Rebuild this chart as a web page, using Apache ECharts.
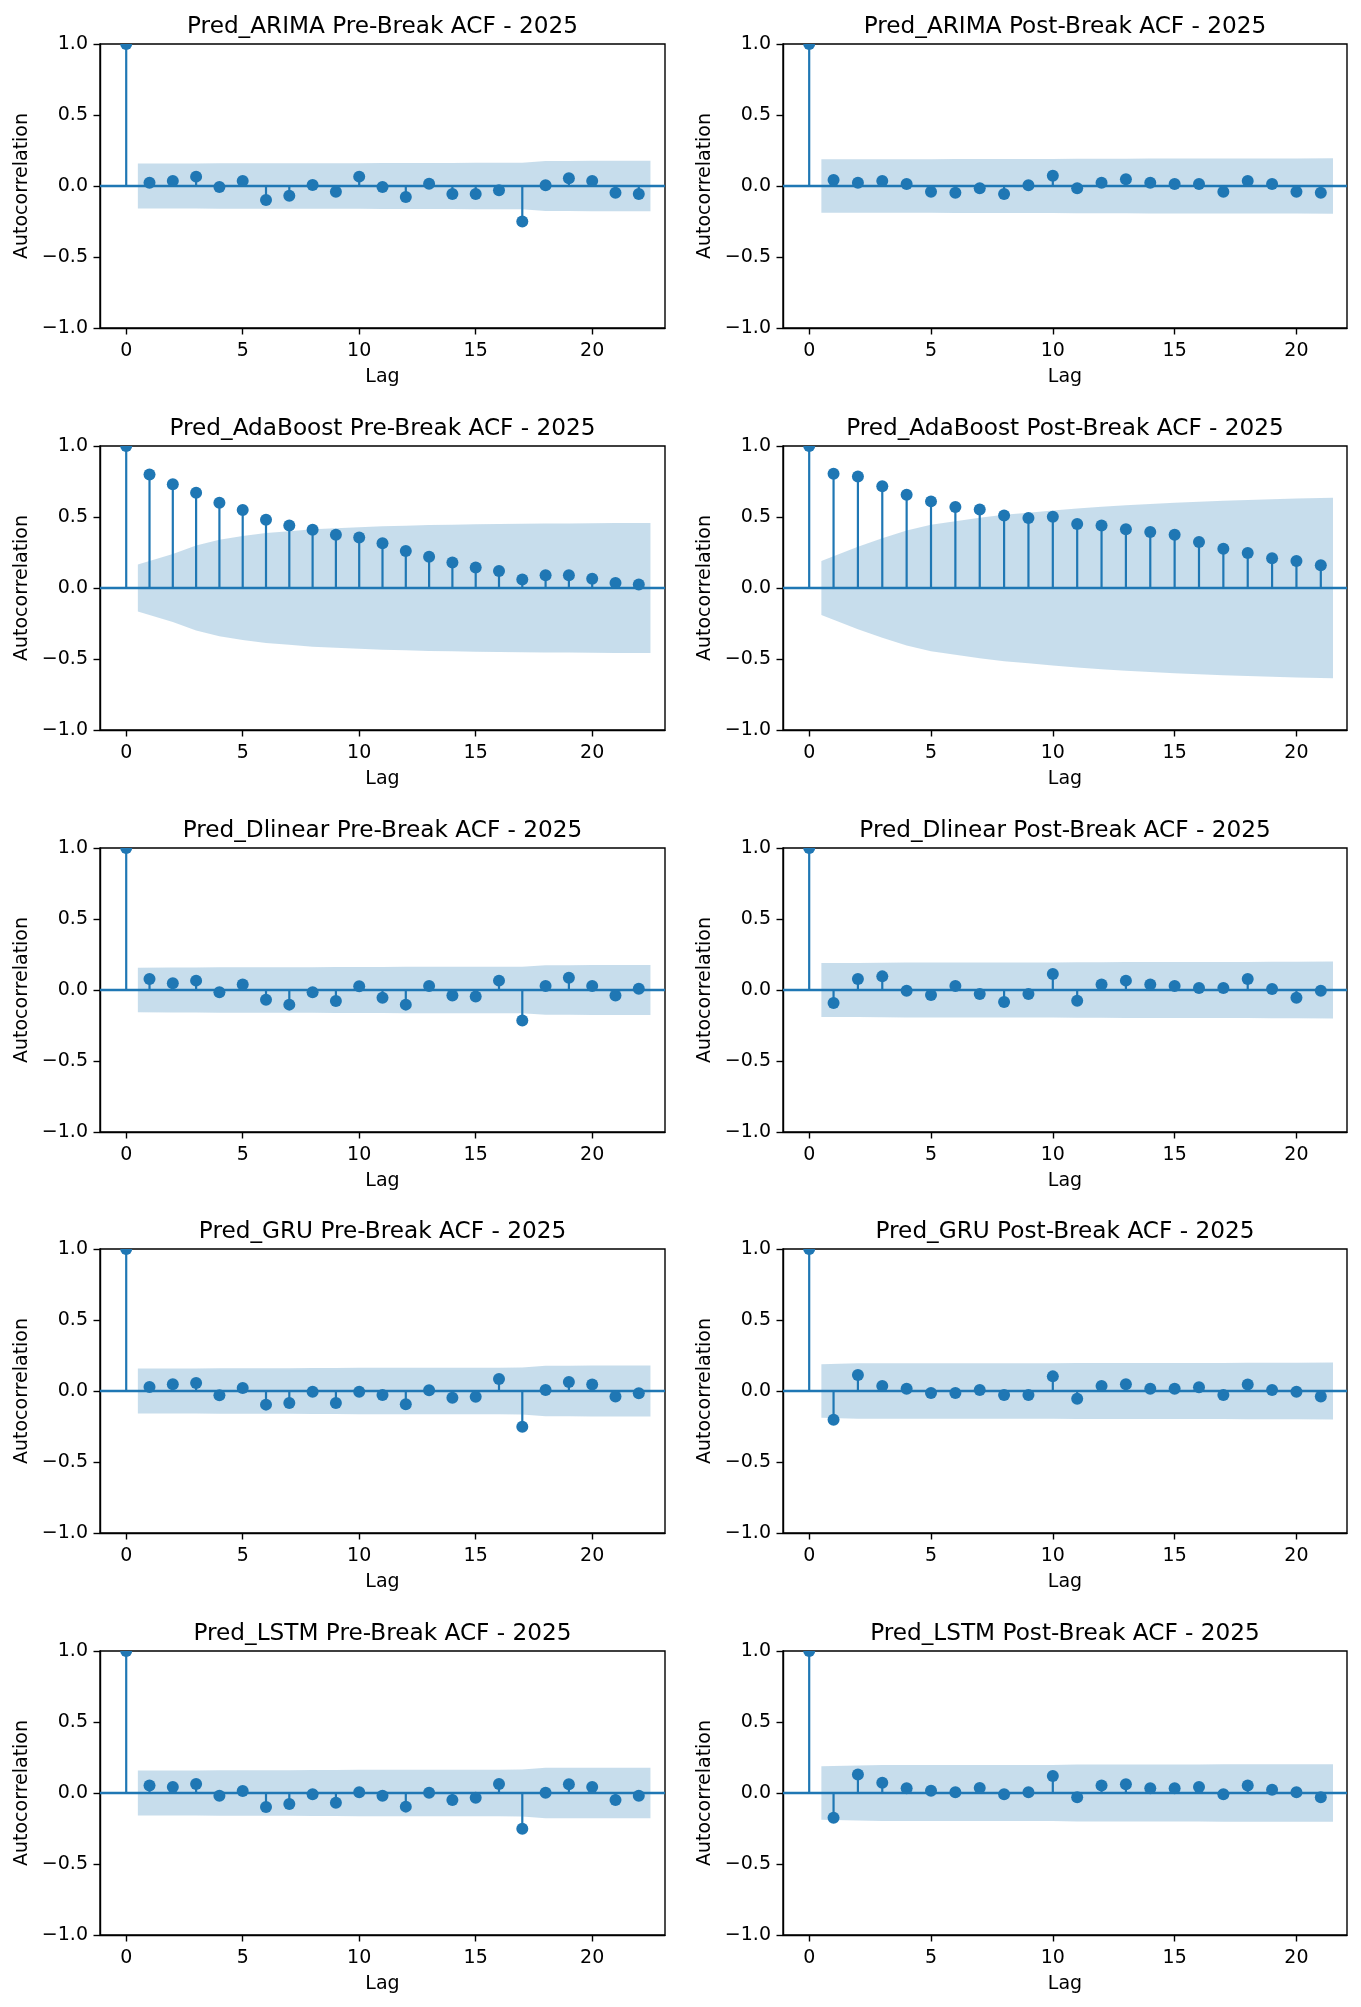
<!DOCTYPE html>
<html>
<head>
<meta charset="utf-8">
<title>ACF pre/post break 2025</title>
<script src="https://cdn.jsdelivr.net/npm/echarts@6/dist/echarts.min.js"></script>
<style>
  html, body { margin: 0; padding: 0; background: #fff; }
  #chart { width: 1361px; height: 2007px; }
</style>
</head>
<body>
<div id="chart"></div>
<script>
// panel titles, row by row (left = pre-break, right = post-break)
const titles = [
  'Pred_ARIMA Pre-Break ACF - 2025', 'Pred_ARIMA Post-Break ACF - 2025',
  'Pred_AdaBoost Pre-Break ACF - 2025', 'Pred_AdaBoost Post-Break ACF - 2025',
  'Pred_Dlinear Pre-Break ACF - 2025', 'Pred_Dlinear Post-Break ACF - 2025',
  'Pred_GRU Pre-Break ACF - 2025', 'Pred_GRU Post-Break ACF - 2025',
  'Pred_LSTM Pre-Break ACF - 2025', 'Pred_LSTM Post-Break ACF - 2025'
];

const lagTicks = [0, 5, 10, 15, 20];

// acf values, lag 0 first
const acfArimaPre = [1.0, 0.023, 0.035, 0.066, -0.007, 0.035, -0.099, -0.068, 0.007, -0.04, 0.066, -0.007,
  -0.077, 0.016, -0.056, -0.056, -0.03, -0.25, 0.005, 0.054, 0.035, -0.047, -0.056];
const acfArimaPost = [1.0, 0.042, 0.023, 0.035, 0.014, -0.04, -0.047, -0.016, -0.056, 0.005, 0.073, -0.016,
  0.023, 0.047, 0.023, 0.014, 0.014, -0.04, 0.035, 0.014, -0.04, -0.047];
const acfAdaPre = [1.0, 0.80, 0.73, 0.67, 0.60, 0.55, 0.48, 0.44, 0.41, 0.375, 0.355, 0.315,
  0.26, 0.22, 0.18, 0.145, 0.12, 0.06, 0.09, 0.09, 0.065, 0.035, 0.025];
const acfAdaPost = [1.0, 0.805, 0.786, 0.716, 0.657, 0.61, 0.57, 0.552, 0.51, 0.493, 0.502, 0.45,
  0.44, 0.413, 0.394, 0.375, 0.324, 0.277, 0.246, 0.209, 0.19, 0.16];
const acfDlinPre = [1.0, 0.077, 0.047, 0.066, -0.016, 0.038, -0.068, -0.103, -0.016, -0.077, 0.026, -0.054,
  -0.103, 0.028, -0.038, -0.045, 0.066, -0.214, 0.028, 0.087, 0.028, -0.038, 0.009];
const acfDlinPost = [1.0, -0.092, 0.077, 0.096, -0.005, -0.035, 0.028, -0.028, -0.085, -0.028, 0.113, -0.075,
  0.038, 0.066, 0.038, 0.028, 0.014, 0.014, 0.077, 0.007, -0.054, -0.005];
const acfGruPre = [1.0, 0.028, 0.047, 0.056, -0.03, 0.021, -0.096, -0.085, -0.005, -0.085, -0.005, -0.028,
  -0.094, 0.005, -0.047, -0.04, 0.085, -0.251, 0.007, 0.063, 0.045, -0.038, -0.016];
const acfGruPost = [1.0, -0.202, 0.113, 0.035, 0.016, -0.014, -0.014, 0.007, -0.028, -0.028, 0.103, -0.054,
  0.035, 0.047, 0.016, 0.016, 0.026, -0.028, 0.045, 0.007, -0.005, -0.038];
const acfLstmPre = [1.0, 0.052, 0.042, 0.063, -0.019, 0.014, -0.099, -0.077, -0.009, -0.068, 0.005, -0.019,
  -0.096, 0.002, -0.049, -0.033, 0.063, -0.251, 0.002, 0.061, 0.042, -0.049, -0.019];
const acfLstmPost = [1.0, -0.174, 0.131, 0.073, 0.033, 0.016, 0.005, 0.035, -0.009, 0.005, 0.12, -0.03,
  0.052, 0.061, 0.033, 0.033, 0.042, -0.009, 0.052, 0.023, 0.005, -0.03];

// half width of the confidence band, lags 1..n
const bandArimaPre = [0.158, 0.159, 0.159, 0.160, 0.160, 0.160, 0.161, 0.161, 0.161, 0.161, 0.162,
  0.162, 0.162, 0.162, 0.163, 0.163, 0.163, 0.176, 0.176, 0.177, 0.177, 0.177];
const bandArimaPost = [0.188, 0.189, 0.189, 0.189, 0.189, 0.190, 0.190, 0.190, 0.191, 0.191, 0.192,
  0.192, 0.192, 0.193, 0.193, 0.193, 0.193, 0.194, 0.194, 0.194, 0.195];
const bandAdaPre = [0.165, 0.24, 0.30, 0.34, 0.366, 0.387, 0.40, 0.413, 0.421, 0.428, 0.434,
  0.439, 0.443, 0.446, 0.449, 0.451, 0.453, 0.454, 0.455, 0.456, 0.457, 0.457];
const bandAdaPost = [0.19, 0.29, 0.35, 0.405, 0.445, 0.47, 0.495, 0.515, 0.53, 0.545, 0.56,
  0.572, 0.582, 0.592, 0.60, 0.608, 0.615, 0.62, 0.625, 0.63, 0.636];
const bandDlinPre = [0.157, 0.158, 0.159, 0.160, 0.160, 0.160, 0.161, 0.161, 0.162, 0.162, 0.162,
  0.163, 0.163, 0.163, 0.163, 0.163, 0.164, 0.175, 0.175, 0.176, 0.176, 0.176];
const bandDlinPost = [0.19, 0.191, 0.192, 0.193, 0.193, 0.193, 0.193, 0.194, 0.194, 0.194, 0.196,
  0.196, 0.197, 0.197, 0.197, 0.198, 0.198, 0.198, 0.199, 0.199, 0.2];
const bandGruPre = [0.158, 0.158, 0.159, 0.160, 0.160, 0.160, 0.161, 0.162, 0.162, 0.163, 0.163,
  0.163, 0.164, 0.164, 0.164, 0.164, 0.165, 0.178, 0.178, 0.179, 0.179, 0.179];
const bandGruPost = [0.188, 0.195, 0.196, 0.196, 0.196, 0.196, 0.196, 0.196, 0.196, 0.196, 0.197,
  0.198, 0.198, 0.198, 0.198, 0.198, 0.198, 0.199, 0.199, 0.199, 0.2];
const bandLstmPre = [0.158, 0.159, 0.159, 0.160, 0.160, 0.160, 0.161, 0.162, 0.162, 0.163, 0.163,
  0.163, 0.164, 0.164, 0.164, 0.164, 0.165, 0.177, 0.177, 0.178, 0.178, 0.178];
const bandLstmPost = [0.188, 0.194, 0.197, 0.198, 0.198, 0.198, 0.198, 0.198, 0.198, 0.198, 0.200,
  0.200, 0.200, 0.201, 0.201, 0.201, 0.202, 0.202, 0.202, 0.203, 0.203];

const acfs = [acfArimaPre, acfArimaPost, acfAdaPre, acfAdaPost, acfDlinPre, acfDlinPost,
  acfGruPre, acfGruPost, acfLstmPre, acfLstmPost];
const bands = [bandArimaPre, bandArimaPost, bandAdaPre, bandAdaPost, bandDlinPre, bandDlinPost,
  bandGruPre, bandGruPost, bandLstmPre, bandLstmPost];

const blue = '#1f77b4';
const font = 'DejaVu Sans';
const colLeft = [100, 783];
const colWidth = [565, 564];
const rowTop = [44, 446, 848, 1249, 1651];
const plotH = 284;

let chart = echarts.init(document.getElementById('chart'), null, {renderer: 'canvas'});

let grids = [], xAxes = [], yAxes = [], series = [], titleList = [];

function fmt(v) {
  return (v < 0 ? '\u2212' : '') + Math.abs(v).toFixed(1);
}

for (let i = 0; i < acfs.length; i++) {
  let row = Math.floor(i / 2), col = i % 2;
  let acf = acfs[i], band = bands[i];
  let n = acf.length - 1;
  // matplotlib autoscale: data spans 0 .. n+0.5, 5% margins
  let pad = 0.05 * (n + 0.5);

  grids.push({
    left: colLeft[col], top: rowTop[row], width: colWidth[col], height: plotH,
    show: true, borderColor: '#000', borderWidth: 1.4, backgroundColor: 'transparent'
  });
  titleList.push({
    text: titles[i],
    left: colLeft[col] + colWidth[col] / 2, top: rowTop[row] - 31,
    textAlign: 'center', padding: 0,
    textStyle: {fontFamily: font, fontSize: 23.2, fontWeight: 'normal', color: '#000', lineHeight: 27}
  });
  xAxes.push({
    type: 'value', gridIndex: i, min: -pad, max: n + pad,
    name: 'Lag', nameLocation: 'middle', nameGap: 40,
    nameTextStyle: {fontFamily: font, fontSize: 19, color: '#000'},
    axisLine: {show: true, onZero: false, lineStyle: {color: '#000', width: 1.4}},
    axisTick: {show: true, inside: false, length: 6.5, customValues: lagTicks, lineStyle: {color: '#000', width: 1.4}},
    axisLabel: {customValues: lagTicks, margin: 14, fontFamily: font, fontSize: 19, color: '#000'},
    splitLine: {show: false}
  });
  yAxes.push({
    type: 'value', gridIndex: i, min: -1, max: 1, interval: 0.5,
    name: 'Autocorrelation', nameLocation: 'middle', nameRotate: 90, nameGap: 68,
    nameTextStyle: {fontFamily: font, fontSize: 19, color: '#000'},
    axisLine: {show: true, onZero: false, lineStyle: {color: '#000', width: 1.4}},
    axisTick: {show: true, inside: false, length: 6.5, lineStyle: {color: '#000', width: 1.4}},
    axisLabel: {formatter: fmt, margin: 12, fontFamily: font, fontSize: 19, color: '#000'},
    splitLine: {show: false}
  });

  // confidence band: first lag shifted to x-0.5, last to x+0.5 (statsmodels style)
  let upper = [], lower = [];
  for (let k = 1; k <= n; k++) {
    let x = k === 1 ? 0.5 : (k === n ? n + 0.5 : k);
    upper.push([x, band[k - 1]]);
    lower.push([x, -band[k - 1]]);
  }
  [upper, lower].forEach(function (d) {
    series.push({
      type: 'line', xAxisIndex: i, yAxisIndex: i, data: d,
      showSymbol: false, silent: true, z: 1,
      lineStyle: {width: 0, opacity: 0},
      areaStyle: {color: 'rgba(31,119,180,0.25)', opacity: 1}
    });
  });

  // stems + markers
  series.push({
    type: 'custom', xAxisIndex: i, yAxisIndex: i, z: 3, clip: true,
    data: acf.map(function (v, k) { return [k, v]; }),
    renderItem: function (params, api) {
      let top = api.coord([api.value(0), api.value(1)]);
      let base = api.coord([api.value(0), 0]);
      return {
        type: 'group',
        children: [
          {type: 'line', shape: {x1: base[0], y1: base[1], x2: top[0], y2: top[1]},
           style: {stroke: blue, lineWidth: 2.2}},
          {type: 'circle', shape: {cx: top[0], cy: top[1], r: 6}, style: {fill: blue}}
        ]
      };
    },
    markLine: {
      silent: true, symbol: 'none', z: 2,
      label: {show: false},
      lineStyle: {color: blue, width: 2.4, type: 'solid'},
      data: [{yAxis: 0}]
    }
  });
}

chart.setOption({
  backgroundColor: '#fff',
  animation: false,
  title: titleList,
  grid: grids,
  xAxis: xAxes,
  yAxis: yAxes,
  series: series
});
</script>
</body>
</html>
